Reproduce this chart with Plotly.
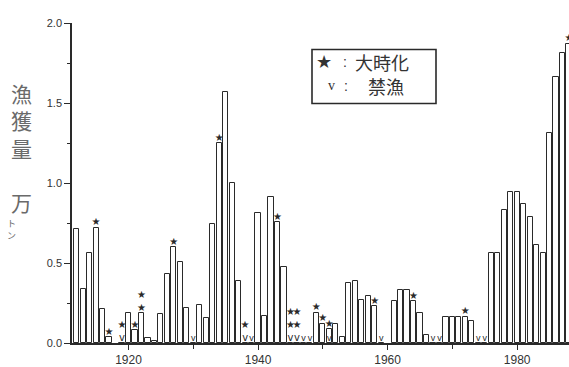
import plotly.graph_objects as go

# Annual catch (10,000 t); None = no record for that year
years = list(range(1912, 1989))
catch = [
    0.71, 0.34, 0.56, 0.72, 0.21, 0.035, None, 0, 0.185,           # 1912-1920
    0.08, 0.185, 0.03, 0.01, 0.18, 0.43, 0.60, 0.505, 0.22, 0,     # 1921-1930
    0.235, 0.155, 0.745, 1.25, 1.57, 1.00, 0.385, 0, 0, 0.81,      # 1931-1940
    0.17, 0.91, 0.755, 0.475, 0, 0, 0, 0, 0.19, 0.12,              # 1941-1950
    0.085, 0.12, 0.035, 0.375, 0.385, 0.27, 0.295, 0.23, 0, None,  # 1951-1960
    0.26, 0.33, 0.33, 0.26, 0.185, 0.05, 0, 0, 0.165, 0.165,       # 1961-1970
    0.16, 0.165, 0.135, 0, 0, 0.565, 0.565, 0.83, 0.945, 0.945,    # 1971-1980
    0.87, 0.785, 0.615, 0.565, 1.31, 1.66, 1.81, 1.87,             # 1981-1988
]

# Years with severe storms (number of stars) and closed-season years
storm_years = [1915, 1917, 1919, 1921, 1922, 1927, 1934, 1938, 1943,
               1945, 1946, 1949, 1950, 1951, 1958, 1964, 1972, 1988]
storm_counts = [1, 1, 1, 1, 2, 1, 1, 1, 1, 2, 2, 1, 1, 1, 1, 1, 1, 1]
ban_years = [1919, 1930, 1938, 1939, 1945, 1946, 1947, 1948, 1951,
             1959, 1967, 1968, 1974, 1975]

x_ticks = [1920, 1940, 1960, 1980]
y_ticks = [0.0, 0.5, 1.0, 1.5, 2.0]

W, H = 569, 367
L, R, T, B = 72, 0, 23, 18
INK = "#2a2a2a"

value_of = dict(zip(years, catch))
ban_set = set(ban_years)

# Storm stars sit on the bar top; in a closed year with no catch the "v"
# is stacked beneath them.
star_x, star_y, star_text = [], [], []
stacked = set()
for yr, n in zip(storm_years, storm_counts):
    val = value_of.get(yr) or 0
    lines = ["★"] * n
    if yr in ban_set and val == 0:
        lines.append("v")
        stacked.add(yr)
    star_x.append(yr)
    star_y.append(val)
    star_text.append("<br>".join(lines))

v_x = [yr for yr in ban_years if yr not in stacked]

fig = go.Figure()
fig.add_trace(go.Bar(
    x=years, y=catch, width=0.8,
    marker=dict(color="white", line=dict(color=INK, width=1)),
    showlegend=False,
))
fig.add_trace(go.Scatter(
    x=v_x, y=[0] * len(v_x), mode="text", text=["v"] * len(v_x),
    textposition="top center", cliponaxis=False,
    textfont=dict(family="Liberation Sans", size=9, color=INK),
    showlegend=False,
))
fig.add_trace(go.Scatter(
    x=star_x, y=star_y, mode="text", text=star_text,
    textposition="top center", cliponaxis=False,
    textfont=dict(family="DejaVu Sans", size=10, color=INK),
    showlegend=False,
))


def px_x(p):
    return (p - L) / (W - L - R)


def px_y(p):
    return (H - B - p) / (H - T - B)


# legend box
fig.add_shape(type="rect", xref="paper", yref="paper",
              x0=px_x(312), x1=px_x(436), y0=px_y(105), y1=px_y(50),
              line=dict(color=INK, width=1.6), fillcolor="white", layer="above")

notes = [
    (324, 62, "★", 18, "DejaVu Sans", "center"),
    (345, 63, ":", 14, "Liberation Sans", "center"),
    (353, 63, "大時化", 18, "Noto Sans CJK JP", "left"),
    (331, 87, "v", 14, "Liberation Serif", "center"),
    (346, 87, ":", 14, "Liberation Sans", "center"),
    (366, 87, "禁漁", 18, "Noto Sans CJK JP", "left"),
    (21, 122, "漁<br>獲<br>量", 21, "Noto Sans CJK JP", "center"),
    (21, 205, "万", 21, "Noto Sans CJK JP", "center"),
    (11, 233, "ト<br>ン", 9, "Noto Sans CJK JP", "center"),
]
for x, y, txt, size, fam, anchor in notes:
    colour = "#6a6a6a" if x < 60 else "#333333"
    fig.add_annotation(
        x=px_x(x), y=px_y(y), xref="paper", yref="paper", text=txt,
        showarrow=False, xanchor=anchor, yanchor="middle",
        font=dict(family=fam, size=size, color=colour),
    )

fig.update_layout(
    width=W, height=H,
    margin=dict(l=L, r=R, t=T, b=B),
    paper_bgcolor="white", plot_bgcolor="white",
    bargap=0,
    xaxis=dict(
        range=[1911.28, 1988.0],
        tickmode="array", tickvals=x_ticks, ticktext=[str(v) for v in x_ticks],
        ticks="outside", ticklen=5, tickwidth=1.2, tickcolor=INK,
        minor=dict(tickvals=[1930, 1950, 1970], ticks="outside", ticklen=4,
                   tickwidth=1, tickcolor=INK),
        showline=True, linecolor=INK, linewidth=1.5,
        showgrid=False, zeroline=False,
        tickfont=dict(family="Liberation Sans", size=12, color="#333333"),
    ),
    yaxis=dict(
        range=[0, 2.0],
        tickmode="array", tickvals=y_ticks, ticktext=[f"{v:.1f}" for v in y_ticks],
        ticks="outside", ticklen=6, tickwidth=1.2, tickcolor=INK,
        minor=dict(tickvals=[0.25, 0.75, 1.25, 1.75], ticks="outside",
                   ticklen=3, tickwidth=1, tickcolor=INK),
        showline=True, linecolor=INK, linewidth=1.5,
        showgrid=False, zeroline=False,
        tickfont=dict(family="Liberation Sans", size=11, color="#333333"),
    ),
)

fig.write_html("out.html")
